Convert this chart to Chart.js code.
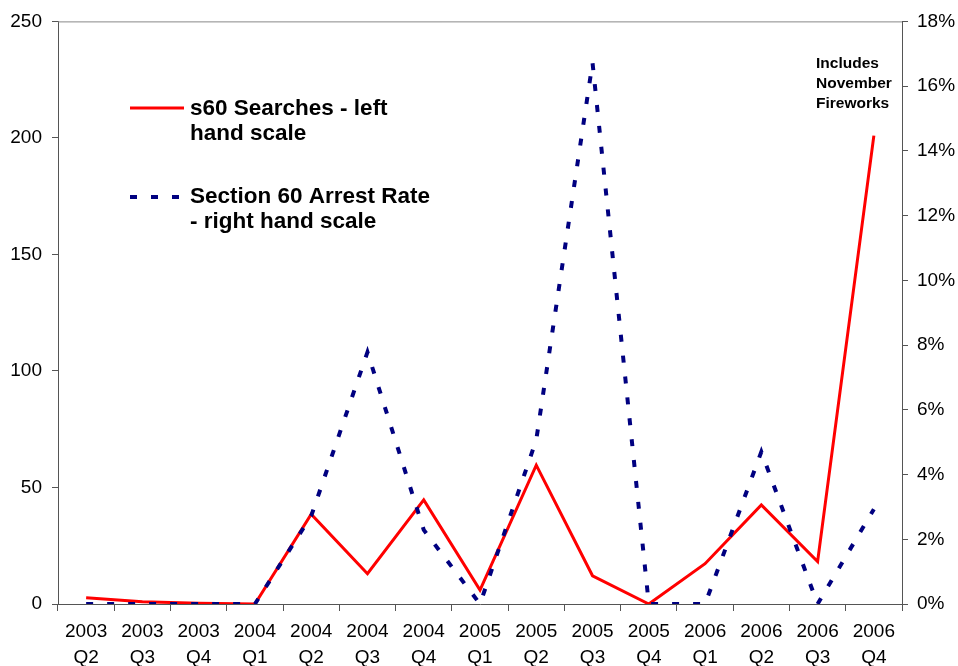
<!DOCTYPE html>
<html>
<head>
<meta charset="utf-8">
<script src="https://cdn.jsdelivr.net/npm/chart.js@4.4.1/dist/chart.umd.min.js"></script>
<style>
  html, body { margin: 0; padding: 0; background: #fff; }
  #wrap { width: 958px; height: 666px; position: relative; }
</style>
</head>
<body>
<div id="wrap"><canvas id="c" width="958" height="666"></canvas></div>
<script>
// quarters, shown as two-line tick labels
var quarters = [
  ['2003', 'Q2'], ['2003', 'Q3'], ['2003', 'Q4'],
  ['2004', 'Q1'], ['2004', 'Q2'], ['2004', 'Q3'], ['2004', 'Q4'],
  ['2005', 'Q1'], ['2005', 'Q2'], ['2005', 'Q3'], ['2005', 'Q4'],
  ['2006', 'Q1'], ['2006', 'Q2'], ['2006', 'Q3'], ['2006', 'Q4']
];
// s60 searches (left scale)
var searches = [2.7, 1, 0.3, 0, 38.5, 13, 44.7, 6, 59.6, 12.1, 0, 17.3, 42.5, 18.2, 201];
// section 60 arrest rate, percent (right scale)
var arrestRate = [0, 0, 0, 0, 2.72, 7.78, 2.29, 0, 5.07, 16.72, 0, 0, 4.7, 0, 2.93];

var searchesLabel = ['s60 Searches - left', 'hand scale'];
var arrestLabel = ['Section 60 Arrest Rate', '- right hand scale'];
var noteLines = ['Includes', 'November', 'Fireworks'];

var tickFont = { family: 'Liberation Sans, Arial, sans-serif', size: 19 };

// top border of the plot + legend + note, drawn onto the chart area
var extras = {
  id: 'extras',
  afterDraw: function (chart) {
    var ctx = chart.ctx, a = chart.chartArea;
    ctx.save();
    ctx.strokeStyle = '#888';
    ctx.lineWidth = 1;
    ctx.beginPath();
    ctx.moveTo(a.left, a.top + 0.5);
    ctx.lineTo(a.right, a.top + 0.5);
    ctx.stroke();

    // legend
    ctx.lineCap = 'butt';
    ctx.strokeStyle = '#FF0000';
    ctx.lineWidth = 3;
    ctx.beginPath();
    ctx.moveTo(130, 108); ctx.lineTo(184, 108);
    ctx.stroke();
    ctx.strokeStyle = '#000080';
    ctx.lineWidth = 4;
    ctx.setLineDash([7, 14]);
    ctx.beginPath();
    ctx.moveTo(130, 197); ctx.lineTo(180, 197);
    ctx.stroke();
    ctx.setLineDash([]);

    ctx.fillStyle = '#000';
    ctx.textBaseline = 'middle';
    ctx.textAlign = 'left';
    ctx.font = 'bold 22.5px Liberation Sans, Arial, sans-serif';
    searchesLabel.forEach(function (t, i) { ctx.fillText(t, 190, 109 + i * 25); });
    arrestLabel.forEach(function (t, i) { ctx.fillText(t, 190, 197 + i * 25); });

    ctx.font = 'bold 15.5px Liberation Sans, Arial, sans-serif';
    noteLines.forEach(function (t, i) { ctx.fillText(t, 816, 64 + i * 20); });
    ctx.restore();
  }
};

new Chart(document.getElementById('c'), {
  type: 'line',
  data: {
    labels: quarters,
    datasets: [
      {
        label: 's60 Searches - left hand scale',
        data: searches,
        yAxisID: 'y',
        borderColor: '#FF0000',
        borderWidth: 3,
        pointRadius: 0,
        tension: 0,
        order: 1
      },
      {
        label: 'Section 60 Arrest Rate - right hand scale',
        data: arrestRate,
        yAxisID: 'y2',
        borderColor: '#000080',
        borderWidth: 4,
        borderDash: [7, 14],
        borderCapStyle: 'butt',
        pointRadius: 0,
        tension: 0,
        order: 0
      }
    ]
  },
  options: {
    responsive: false,
    animation: false,
    layout: { padding: { top: 20, left: 0, right: 0, bottom: 0 } },
    plugins: { legend: { display: false }, tooltip: { enabled: false } },
    scales: {
      x: {
        offset: true,
        grid: { offset: true, drawOnChartArea: false, tickLength: 7, color: '#555' },
        border: { color: '#555', width: 1 },
        ticks: { color: '#000', font: { family: tickFont.family, size: 19, lineHeight: 1.35 }, padding: 8, maxRotation: 0, autoSkip: false },
        afterFit: function (s) { s.height = 62; }
      },
      y: {
        position: 'left',
        min: 0, max: 250,
        grid: { drawOnChartArea: false, tickLength: 6, color: '#555' },
        border: { color: '#555', width: 1 },
        ticks: { stepSize: 50, color: '#000', font: tickFont, padding: 10 },
        afterFit: function (s) { s.width = 58; }
      },
      y2: {
        position: 'right',
        min: 0, max: 18,
        grid: { drawOnChartArea: false, tickLength: 6, color: '#555' },
        border: { color: '#555', width: 1 },
        ticks: { stepSize: 2, color: '#000', font: tickFont, padding: 9,
          callback: function (v) { return v + '%'; } },
        afterFit: function (s) { s.width = 56; }
      }
    }
  },
  plugins: [extras]
});
</script>
</body>
</html>
